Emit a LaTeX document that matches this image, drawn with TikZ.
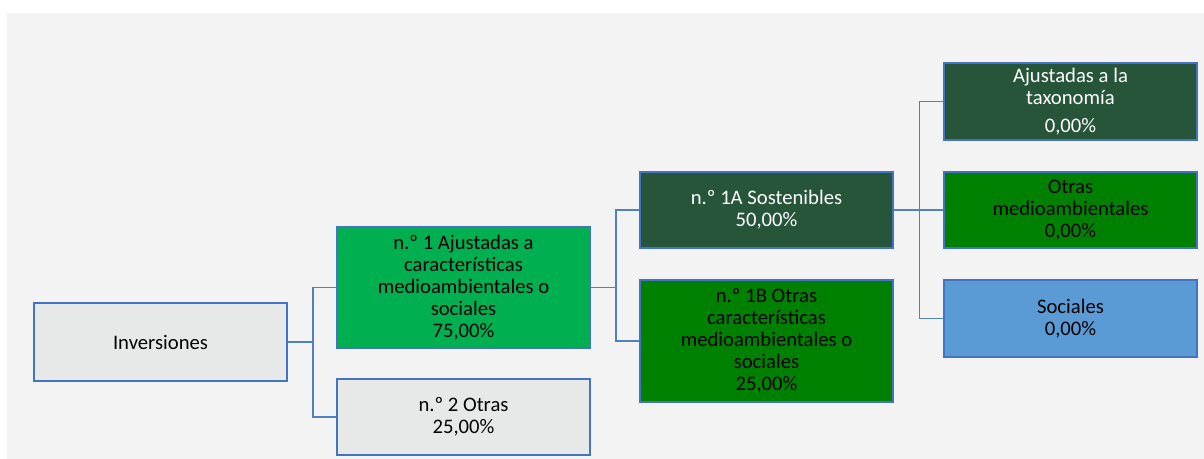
\documentclass[tikz,border=0pt]{standalone}
\usepackage{fontspec}
\setmainfont{Carlito}
\usepackage{tikz}
\usetikzlibrary{calc,positioning}

\definecolor{fondo}{HTML}{F3F3F3}
\definecolor{grisbox}{HTML}{E7E9E9}
\definecolor{borde}{HTML}{4472C4}
\definecolor{enlace}{HTML}{4F81BD}
\definecolor{verdeclaro}{HTML}{00B050}
\definecolor{verdeoscuro}{HTML}{26553A}
\definecolor{verde}{HTML}{008000}
\definecolor{azul}{HTML}{5B9BD5}

\tikzset{
  caja/.style={draw=borde, line width=1.5pt, align=center, minimum width=189.75pt, minimum height=57pt, inner sep=2pt, font=\fontsize{15.5}{16.5}\selectfont},
  enlace/.style={draw=enlace, line width=1.4pt}
}

\begin{document}
\begin{tikzpicture}[x=0.75pt,y=-0.75pt]
	\useasboundingbox (0,0) rectangle (1204,459);
	\fill[fondo] (7,13) rectangle (1204,459);

	\node[caja, fill=grisbox, minimum height=58.5pt] (inv) at (160.5,342) {Inversiones};

	\node[caja, fill=verdeclaro, minimum height=90.75pt] (n1) at (463.5,287.5) {n.º 1 Ajustadas a\\características\\medioambientales o\\sociales\\75,00\%};
	\node[caja, fill=grisbox] (n2) at (463.5,417) {n.º 2 Otras\\25,00\%};

	\node[caja, fill=verdeoscuro, text=white] (s1a) at (766.5,210) {n.º 1A Sostenibles\\50,00\%};
	\node[caja, fill=verde, minimum height=91.5pt] (s1b) at (766.5,341) {n.º 1B Otras\\características\\medioambientales o\\sociales\\25,00\%};

	\node[caja, fill=verdeoscuro, text=white, minimum height=57.75pt] (tax) at (1070.5,101.5) {Ajustadas a la\\taxonomía\\[5pt]0,00\%};
	\node[caja, fill=verde] (oma) at (1070.5,210) {Otras\\medioambientales\\0,00\%};
	\node[caja, fill=azul, minimum height=57.75pt] (soc) at (1070.5,318.5) {Sociales\\0,00\%};

	\draw[enlace] (inv.east) -- ++(25,0) coordinate (j1) |- (n1.west);
	\draw[enlace] (j1) |- (n2.west);

	\draw[enlace] (n1.east) -- ++(25,0) coordinate (j2) |- (s1a.west);
	\draw[enlace] (j2) |- (s1b.west);

	\draw[enlace] (s1a.east) -- ++(25.5,0) coordinate (j3) |- (tax.west);
	\draw[enlace] (j3) |- (oma.west);
	\draw[enlace] (j3) |- (soc.west);
\end{tikzpicture}
\end{document}
